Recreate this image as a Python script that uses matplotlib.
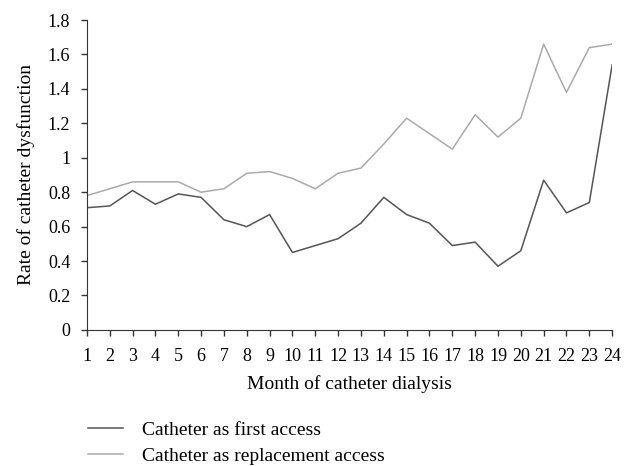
import matplotlib
matplotlib.use('Agg')
import matplotlib.pyplot as plt

plt.rcParams['font.family'] = ['Liberation Serif', 'DejaVu Serif']

months = list(range(1, 25))
first_access = [0.71, 0.72, 0.81, 0.73, 0.79, 0.77, 0.64, 0.60, 0.67, 0.45, 0.49, 0.53,
                0.62, 0.77, 0.67, 0.62, 0.49, 0.51, 0.37, 0.46, 0.87, 0.68, 0.74, 1.54]
replacement_access = [0.78, 0.82, 0.86, 0.86, 0.86, 0.80, 0.82, 0.91, 0.92, 0.88, 0.82, 0.91,
                      0.94, 1.08, 1.23, 1.14, 1.05, 1.25, 1.12, 1.23, 1.66, 1.38, 1.64, 1.66]
y_ticks = [0, 0.2, 0.4, 0.6, 0.8, 1.0, 1.2, 1.4, 1.6, 1.8]
y_labels = ['0', '0.2', '0.4', '0.6', '0.8', '1', '1.2', '1.4', '1.6', '1.8']

fig = plt.figure(figsize=(6.39, 4.66), dpi=100)
ax = fig.add_axes([0.136, 0.292, 0.822, 0.665])

l1, = ax.plot(months, first_access, color='#555555', lw=1.1, label='Catheter as first access')
l2, = ax.plot(months, replacement_access, color='#aaaaaa', lw=1.1, label='Catheter as replacement access')

ax.set_xlim(1, 24)
ax.set_ylim(0, 1.8)
ax.set_xticks(months)
ax.set_xticklabels([str(m) for m in months])
ax.set_yticks(y_ticks)
ax.set_yticklabels(y_labels)
ax.tick_params(labelsize=13, direction='out', length=4, width=1, color='#333333')
ax.tick_params(axis='x', pad=9)
ax.tick_params(axis='y', pad=8)
ax.spines['top'].set_visible(False)
ax.spines['right'].set_visible(False)
for s in ['left', 'bottom']:
    ax.spines[s].set_color('#333333')
ax.set_xlabel('Month of catheter dialysis', fontsize=14, labelpad=7)
ax.set_ylabel('Rate of catheter dysfunction', fontsize=14, labelpad=9)

fig.legend(handles=[l1, l2], loc='upper left', bbox_to_anchor=(88 / 639, 0.096),
           frameon=False, fontsize=14, handlelength=1.8, handletextpad=1.0,
           labelspacing=0.45, borderpad=0, borderaxespad=0)

fig.savefig('out.png', dpi=100)
